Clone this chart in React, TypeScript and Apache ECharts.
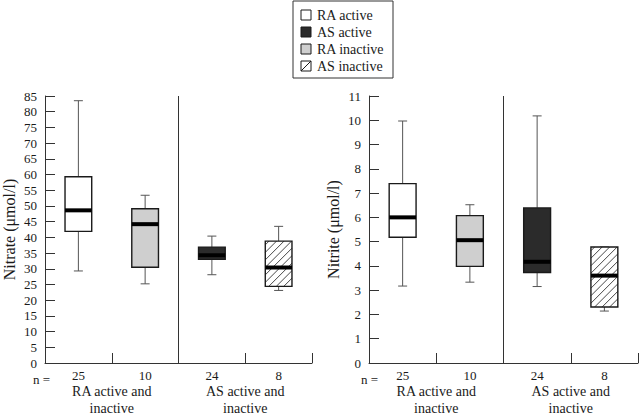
import React, { useEffect, useRef } from "react";
import * as echarts from "echarts";

const nLabels = ["25", "10", "24", "8"];
const groupLabels = ["RA active and\ninactive", "AS active and\ninactive"];
const legendNames = ["RA active", "AS active", "RA inactive", "AS inactive"];
const legendFills = ["white", "dark", "gray", "hatch"];
const boxFills = ["white", "gray", "dark", "hatch"];
// [min, Q1, median, Q3, max]
const nitrateStats = [
  [29.3, 41.9, 48.6, 59.3, 83.5],
  [25.2, 30.5, 44.2, 49.1, 53.4],
  [28.1, 33.0, 34.3, 36.9, 40.4],
  [23.1, 24.4, 30.4, 38.8, 43.5],
];
const nitriteStats = [
  [3.17, 5.18, 6.0, 7.39, 9.97],
  [3.33, 3.98, 5.06, 6.07, 6.52],
  [3.15, 3.73, 4.17, 6.39, 10.18],
  [2.14, 2.31, 3.6, 4.78, 4.78],
];
const nitrateAxis = { min: 0, max: 85, interval: 5, name: "Nitrate (\u03bcmol/l)" };
const nitriteAxis = { min: 0, max: 11, interval: 1, name: "Nitrite (\u03bcmol/l)" };
const nPrefix = "n =";

const FONT = "'Liberation Serif', 'DejaVu Serif', serif";
const INK = "#1a1a1a";
const fillColor: Record<string, string> = {
  white: "#ffffff",
  dark: "#2b2b2b",
  gray: "#cfcfcf",
  hatch: "#ffffff",
};

function hatchLines(x0: number, y0: number, x1: number, y1: number, step: number) {
  const out: any[] = [];
  for (let c = x0 + y0 + step / 2; c < x1 + y1; c += step) {
    const sx = Math.max(x0, c - y1);
    const ex = Math.min(x1, c - y0);
    if (ex <= sx) continue;
    out.push({
      type: "line",
      shape: { x1: sx, y1: c - sx, x2: ex, y2: c - ex },
      style: { stroke: "#333", lineWidth: 0.9 },
    });
  }
  return out;
}

function renderBox(params: any, api: any) {
  const idx = api.value(0);
  const lo = api.coord([idx, api.value(1)]);
  const q1 = api.coord([idx, api.value(2)]);
  const md = api.coord([idx, api.value(3)]);
  const q3 = api.coord([idx, api.value(4)]);
  const hi = api.coord([idx, api.value(5)]);
  const fill = boxFills[idx];
  const xc = lo[0];
  const bw = api.size([1, 0])[0] * 0.4;
  const cw = 4.5;
  const whisker = { stroke: "#555", lineWidth: 1 };
  const x0 = xc - bw / 2;
  const x1 = xc + bw / 2;
  const children: any[] = [
    { type: "line", shape: { x1: xc, y1: q3[1], x2: xc, y2: hi[1] }, style: whisker },
    { type: "line", shape: { x1: xc - cw, y1: hi[1], x2: xc + cw, y2: hi[1] }, style: whisker },
    { type: "line", shape: { x1: xc, y1: q1[1], x2: xc, y2: lo[1] }, style: whisker },
    { type: "line", shape: { x1: xc - cw, y1: lo[1], x2: xc + cw, y2: lo[1] }, style: whisker },
    {
      type: "rect",
      shape: { x: x0, y: q3[1], width: bw, height: q1[1] - q3[1] },
      style: { fill: fillColor[fill], stroke: "none" },
    },
  ];
  if (fill === "hatch") children.push(...hatchLines(x0, q3[1], x1, q1[1], 7.5));
  children.push({
    type: "rect",
    shape: { x: x0, y: q3[1], width: bw, height: q1[1] - q3[1] },
    style: { fill: "none", stroke: INK, lineWidth: 1.4 },
  });
  children.push({
    type: "line",
    shape: { x1: x0, y1: md[1], x2: x1, y2: md[1] },
    style: { stroke: "#000", lineWidth: 4 },
  });
  return { type: "group", children };
}

function buildOption() {
  const grids = [
    { left: 41, top: 96, width: 271, height: 271 },
    { left: 369, top: 96, width: 269, height: 271 },
  ];
  const axes = [nitrateAxis, nitriteAxis];
  const stats = [nitrateStats, nitriteStats];
  const xAxis: any[] = [];
  const yAxis: any[] = [];
  const series: any[] = [];
  grids.forEach((g, gi) => {
    xAxis.push({
      type: "category",
      gridIndex: gi,
      data: nLabels,
      boundaryGap: true,
      axisLine: { show: true, lineStyle: { color: "#333", width: 1 } },
      axisTick: { show: true, inside: true, length: 10, interval: 0, lineStyle: { color: "#333" } },
      axisLabel: { show: true, interval: 0, margin: 6, fontFamily: FONT, fontSize: 13, color: INK },
      splitLine: { show: false },
    });
    xAxis.push({
      type: "category",
      gridIndex: gi,
      data: groupLabels,
      position: "bottom",
      boundaryGap: true,
      axisLine: { show: false },
      axisTick: { show: false },
      axisLabel: {
        show: true,
        interval: 0,
        margin: 20,
        fontFamily: FONT,
        fontSize: 14,
        lineHeight: 17,
        color: INK,
      },
      splitLine: {
        show: true,
        interval: 0,
        showMinLine: false,
        showMaxLine: false,
        lineStyle: { color: "#333", width: 1, type: "solid" },
      },
    });
    const a = axes[gi];
    yAxis.push({
      type: "value",
      gridIndex: gi,
      min: a.min,
      max: a.max,
      interval: a.interval,
      name: a.name,
      nameLocation: "middle",
      nameGap: 28,
      nameRotate: 90,
      nameTextStyle: { fontFamily: FONT, fontSize: 16, color: INK },
      axisLine: { show: true, lineStyle: { color: "#333", width: 1 } },
      axisTick: { show: true, inside: true, length: 10, lineStyle: { color: "#333" } },
      axisLabel: { margin: 8, fontFamily: FONT, fontSize: 13, color: INK },
      splitLine: { show: false },
    });
    series.push({
      type: "custom",
      xAxisIndex: gi * 2,
      yAxisIndex: gi,
      renderItem: renderBox,
      encode: { x: 0, y: [1, 2, 3, 4, 5] },
      data: stats[gi].map((s, i) => [i, ...s]),
      silent: true,
    });
  });

  const legendChildren: any[] = [
    {
      type: "rect",
      shape: { x: 293, y: 1, width: 100, height: 77 },
      style: { fill: "#fff", stroke: "#333", lineWidth: 1 },
    },
  ];
  legendNames.forEach((name, i) => {
    const cy = 15 + i * 17;
    const f = legendFills[i];
    legendChildren.push({
      type: "rect",
      shape: { x: 301, y: cy - 5, width: 10, height: 10 },
      style: { fill: fillColor[f], stroke: INK, lineWidth: 1 },
    });
    if (f === "hatch") {
      legendChildren.push({
        type: "line",
        shape: { x1: 301, y1: cy + 5, x2: 311, y2: cy - 5 },
        style: { stroke: INK, lineWidth: 1 },
      });
    }
    legendChildren.push({
      type: "text",
      x: 317,
      y: cy,
      style: { text: name, fontFamily: FONT, fontSize: 14, fill: INK, verticalAlign: "middle", align: "left" },
    });
  });

  const graphic: any[] = [
    { type: "group", children: legendChildren },
    {
      type: "text",
      x: 33,
      y: 379,
      style: { text: nPrefix, fontFamily: FONT, fontSize: 13, fill: INK, verticalAlign: "middle" },
    },
    {
      type: "text",
      x: 361,
      y: 379,
      style: { text: nPrefix, fontFamily: FONT, fontSize: 13, fill: INK, verticalAlign: "middle" },
    },
  ];

  return {
    animation: false,
    backgroundColor: "#ffffff",
    textStyle: { fontFamily: FONT },
    grid: grids,
    xAxis,
    yAxis,
    series,
    graphic,
  };
}

export default function App() {
  const ref = useRef<HTMLDivElement>(null);
  useEffect(() => {
    document.body.style.margin = "0";
    if (!ref.current) return;
    const chart = echarts.init(ref.current, null, { renderer: "svg" });
    chart.setOption(buildOption() as any);
    return () => chart.dispose();
  }, []);
  return <div ref={ref} style={{ width: 640, height: 417 }} />;
}
